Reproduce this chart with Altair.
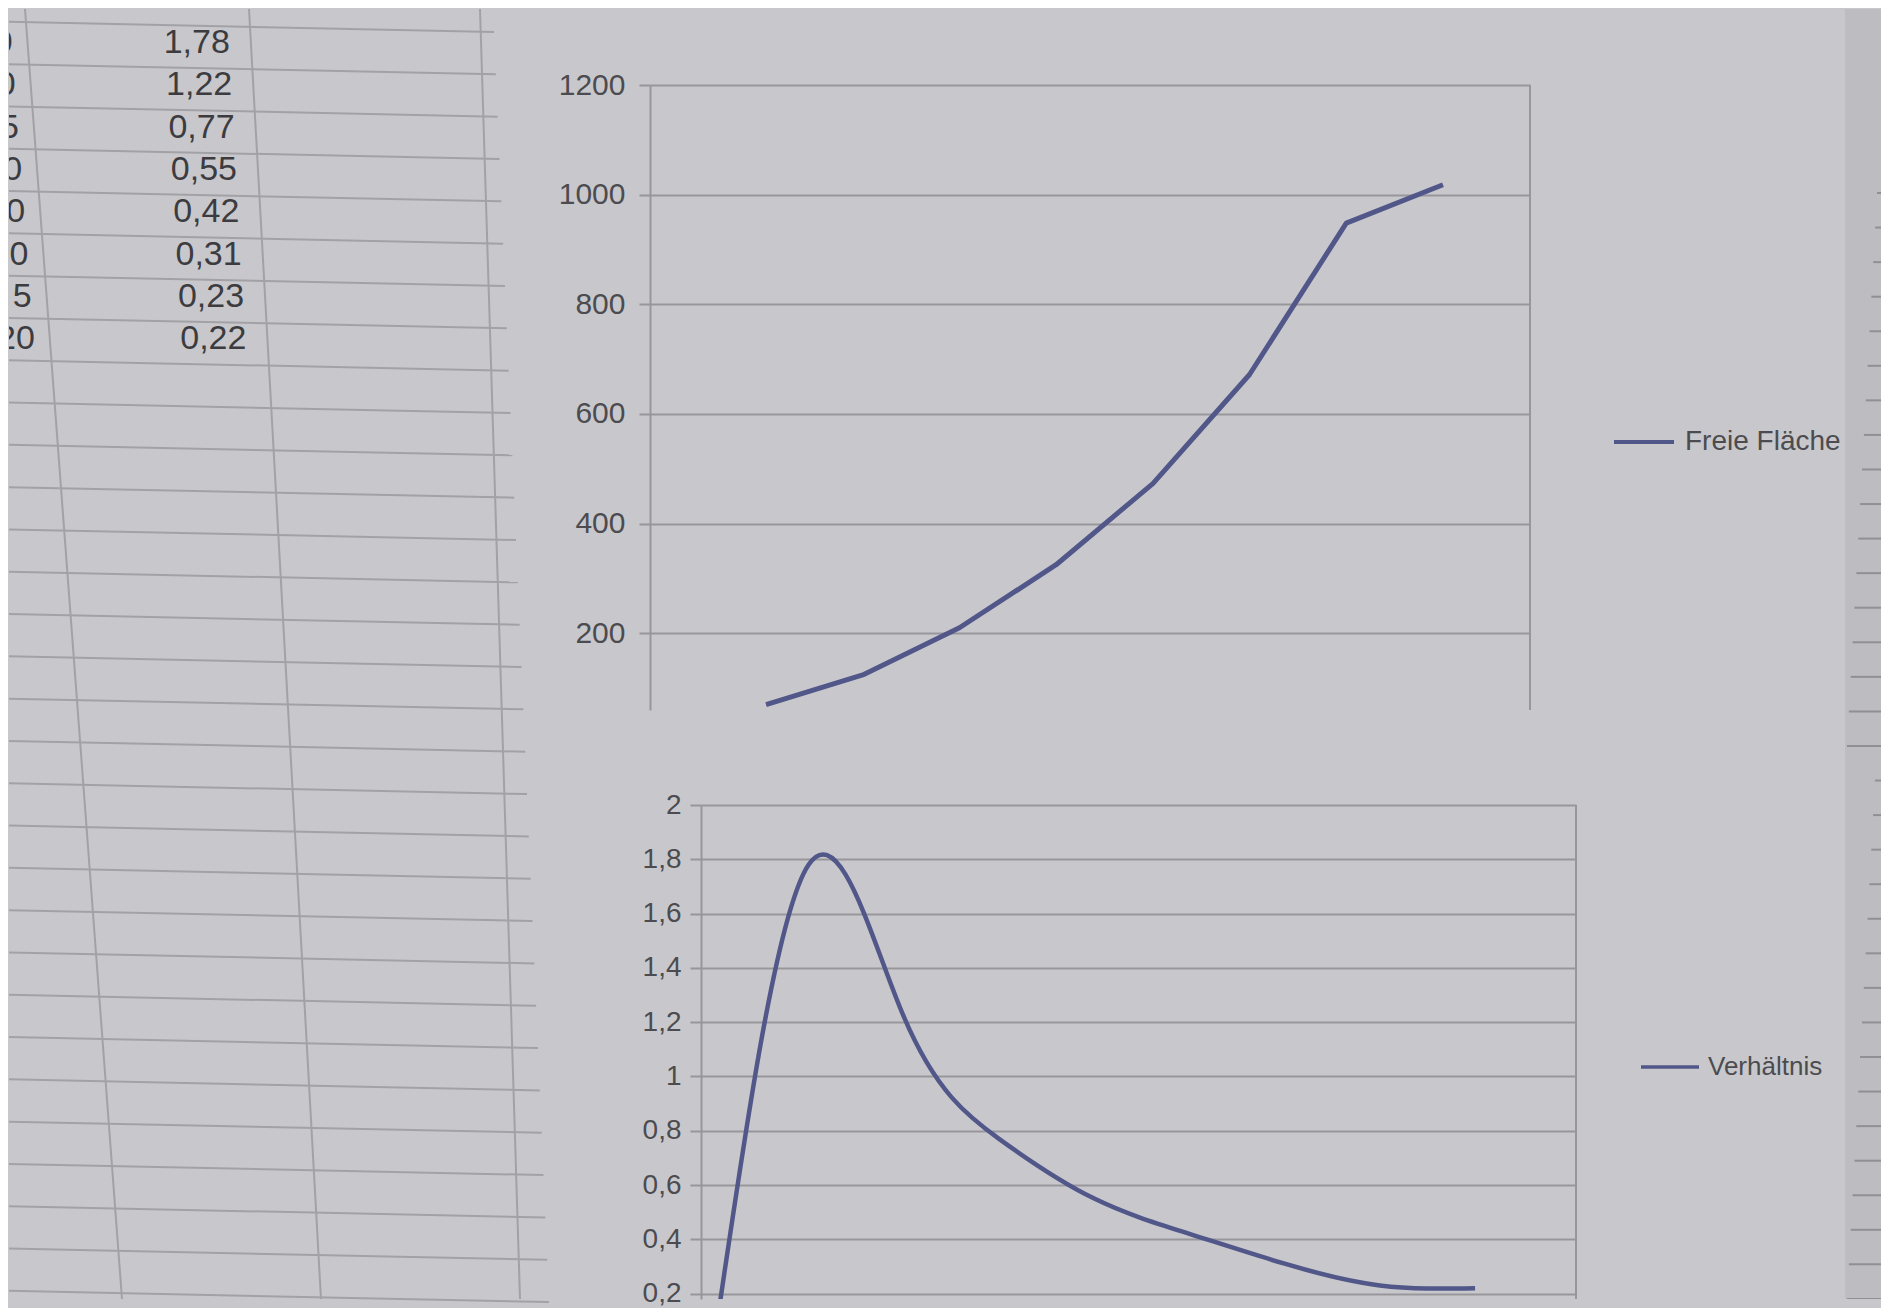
import altair as alt
import pandas as pd

# ---------------- data ----------------
# spreadsheet cells (value column, German decimal comma)
cell_rows = [1, 2, 3, 4, 5, 6, 7, 8]
cell_values = ["1,78", "1,22", "0,77", "0,55", "0,42", "0,31", "0,23", "0,22"]
# cut-off column at the left edge (only trailing digits visible)
left_rows = [1, 2, 3, 4, 5, 6, 7, 8]
left_values = ["0", "0", "5", "0", "0", "0", "5", "20"]

# upper chart: Freie Fläche
flaeche_series = "Freie Fläche"
flaeche_idx = [1, 2, 3, 4, 5, 6, 7, 8]
flaeche = [70, 124, 210, 325, 473, 672, 948, 1018]
flaeche_ticks = [200, 400, 600, 800, 1000, 1200]

# lower chart: Verhältnis
ratio_series = "Verhältnis"
ratio_idx = [0, 1, 2, 3, 4, 5, 6, 7, 8]
ratio = [0, 1.78, 1.22, 0.77, 0.55, 0.42, 0.31, 0.23, 0.22]
ratio_ticks = [0.2, 0.4, 0.6, 0.8, 1.0, 1.2, 1.4, 1.6, 1.8, 2.0]

# ---------------- styles ----------------
FONT = "Liberation Sans"
BG = "#c8c8cc"
EDGE_BG = "#bdbdc1"
GRID = "#96969b"
CELLGRID = "#a2a2a6"
EDGEGRID = "#909094"
LINE = "#52578a"
LABEL = "#4c4c50"
CELLTXT = "#3c3c40"

# ---------------- spreadsheet panel ----------------
TW, TH = 544, 1290
ROW_H = 42.3
ROW0 = -8.3
ydom = [(0 - ROW0) / ROW_H, (TH - ROW0) / ROW_H]
xs = alt.Scale(domain=[0, TW], nice=False, zero=False)
ys = alt.Scale(domain=ydom, nice=False, zero=False, reverse=True)

rows_df = pd.DataFrame({"r": list(range(0, 31))})
row_lines = alt.Chart(rows_df).transform_calculate(
    yb="datum.r + 0.5",
    xe="485 + 55 * datum.r / 30",
    x0="0",
).transform_calculate(
    ye=f"datum.yb + 10 / {ROW_H} * datum.xe / 480"
).mark_rule(color=CELLGRID, strokeWidth=2).encode(
    x=alt.X("x0:Q", scale=xs, axis=None),
    x2="xe:Q",
    y=alt.Y("yb:Q", scale=ys, axis=None),
    y2="ye:Q",
)

COL_TOP = [16, 240, 471]
COL_BOTTOM = [113, 312, 511]
cols_df = pd.DataFrame({"xt": COL_TOP, "xb": COL_BOTTOM})
col_lines = alt.Chart(cols_df).transform_calculate(
    yt=str(ydom[0]), ybm=str(ydom[1])
).mark_rule(color=CELLGRID, strokeWidth=2).encode(
    x=alt.X("xt:Q", scale=xs, axis=None),
    x2="xb:Q",
    y=alt.Y("yt:Q", scale=ys, axis=None),
    y2="ybm:Q",
)

cells_df = pd.DataFrame({"r": cell_rows, "t": cell_values})
cells = alt.Chart(cells_df).transform_calculate(
    ypx=f"{ROW0} + datum.r * {ROW_H}"
).transform_calculate(
    xr=f"{COL_TOP[1]} + {COL_BOTTOM[1] - COL_TOP[1]} * datum.ypx / {TH} - 21"
).mark_text(align="right", baseline="middle", font=FONT, fontSize=34,
            color=CELLTXT, clip=True).encode(
    x=alt.X("xr:Q", scale=xs, axis=None),
    y=alt.Y("r:Q", scale=ys, axis=None),
    text="t:N",
)

left_df = pd.DataFrame({"r": left_rows, "t": left_values})
left_cells = alt.Chart(left_df).transform_calculate(
    ypx=f"{ROW0} + datum.r * {ROW_H}"
).transform_calculate(
    xr=f"{COL_TOP[0]} + {COL_BOTTOM[0] - COL_TOP[0]} * datum.ypx / {TH} - 15"
).mark_text(align="right", baseline="middle", font=FONT, fontSize=34,
            color=CELLTXT, clip=True).encode(
    x=alt.X("xr:Q", scale=xs, axis=None),
    y=alt.Y("r:Q", scale=ys, axis=None),
    text="t:N",
)

table = alt.layer(row_lines, col_lines, cells, left_cells).properties(width=TW, height=TH)

# ---------------- spreadsheet rows peeking out at the right edge ----------------
EW = 36
E_ROW_H = 34.56
E_ROW0 = 184
edom = [(0 - E_ROW0) / E_ROW_H, (TH - E_ROW0) / E_ROW_H]
exs = alt.Scale(domain=[0, EW], nice=False, zero=False)
eys = alt.Scale(domain=edom, nice=False, zero=False, reverse=True)
edge_df = pd.DataFrame({"k": list(range(0, 33))})
edge_lines = alt.Chart(edge_df).transform_calculate(
    xs0="datum.k <= 16 ? 32 - 30 * datum.k / 16 : 30 - 28 * (datum.k - 17) / 15",
    xe=str(EW),
).mark_rule(color=EDGEGRID, strokeWidth=2, clip=True).encode(
    x=alt.X("xs0:Q", scale=exs, axis=None),
    x2="xe:Q",
    y=alt.Y("k:Q", scale=eys, axis=None),
).properties(width=EW, height=TH, view=alt.ViewBackground(fill=EDGE_BG))

# ---------------- upper chart ----------------
TOPW, TOPH = 880, 625
top_df = pd.DataFrame({"i": flaeche_idx, "v": flaeche, "s": [flaeche_series] * len(flaeche)})
top_line = alt.Chart(top_df).mark_line(strokeWidth=5, clip=True, strokeJoin="round").encode(
    x=alt.X("i:Q", scale=alt.Scale(domain=[-0.2, 8.9], nice=False, zero=False), axis=None),
    y=alt.Y("v:Q", scale=alt.Scale(domain=[60, 1200], nice=False, zero=False),
            axis=alt.Axis(values=flaeche_ticks, format="d", title=None, grid=True,
                          gridColor=GRID, gridWidth=2, domainColor=GRID, domainWidth=2,
                          tickColor=GRID, tickWidth=2, tickSize=11, labelPadding=14,
                          labelFont=FONT, labelFontSize=30, labelColor=LABEL)),
    color=alt.Color("s:N", scale=alt.Scale(range=[LINE]),
                    legend=alt.Legend(title=None, orient="none", legendX=962, legendY=325,
                                      symbolType="stroke", symbolSize=3600,
                                      symbolStrokeWidth=4, labelFont=FONT,
                                      labelFontSize=28, labelColor=LABEL,
                                      labelOffset=9, padding=0)),
)
top_border = alt.Chart(pd.DataFrame({"k": [0]})).mark_rule(color=GRID, strokeWidth=2).encode(
    x=alt.value(TOPW), y=alt.value(0), y2=alt.value(TOPH)
)
top = alt.layer(top_line, top_border).properties(width=TOPW, height=TOPH)

# ---------------- lower chart ----------------
BOTW, BOTH = 875, 494
bot_df = pd.DataFrame({"j": ratio_idx, "w": ratio, "u": [ratio_series] * len(ratio)})
bot_line = alt.Chart(bot_df).mark_line(strokeWidth=4.5, clip=True, interpolate="natural").encode(
    x=alt.X("j:Q", scale=alt.Scale(domain=[-0.13, 9.06], nice=False, zero=False), axis=None),
    y=alt.Y("w:Q", scale=alt.Scale(domain=[0.18, 2], nice=False, zero=False),
            axis=alt.Axis(values=ratio_ticks, title=None, grid=True,
                          labelExpr="replace(format(datum.value, '.1~f'), '.', ',')",
                          gridColor=GRID, gridWidth=2, domainColor=GRID, domainWidth=2,
                          tickColor=GRID, tickWidth=2, tickSize=11, labelPadding=9,
                          labelFont=FONT, labelFontSize=28, labelColor=LABEL)),
    color=alt.Color("u:N", scale=alt.Scale(range=[LINE]),
                    legend=alt.Legend(title=None, orient="none", legendX=938, legendY=231,
                                      symbolType="stroke", symbolSize=3364,
                                      symbolStrokeWidth=3.5, labelFont=FONT,
                                      labelFontSize=26, labelColor=LABEL,
                                      labelOffset=7, padding=0)),
)
bot_border = alt.Chart(pd.DataFrame({"k": [0]})).mark_rule(color=GRID, strokeWidth=2).encode(
    x=alt.value(BOTW), y=alt.value(0), y2=alt.value(BOTH)
)
bottom = alt.layer(bot_line, bot_border).properties(width=BOTW, height=BOTH)


def spacer(w, h):
    return alt.Chart(pd.DataFrame({"k": [0]})).mark_point(size=0, opacity=0).encode(
        x=alt.X("k:Q", axis=None), y=alt.Y("k:Q", axis=None)
    ).properties(width=w, height=h)


IND = dict(x="independent", y="independent", color="independent")
top_row = alt.hconcat(spacer(1, TOPH), top, spacing=0).resolve_scale(**IND)
bottom_row = alt.hconcat(spacer(85, BOTH), bottom, spacing=0).resolve_scale(**IND)
inner = alt.vconcat(top_row, bottom_row, spacing=80).resolve_scale(**IND)
right = alt.vconcat(spacer(1, 61), inner, spacing=0).resolve_scale(**IND)

chart = alt.hconcat(table, right, edge_lines, spacing=4).resolve_scale(**IND).properties(
    background=BG, padding=0
).configure(font=FONT).configure_view(stroke=None, strokeWidth=0)

chart.save("out.html", embed_options={"renderer": "svg", "actions": False})
